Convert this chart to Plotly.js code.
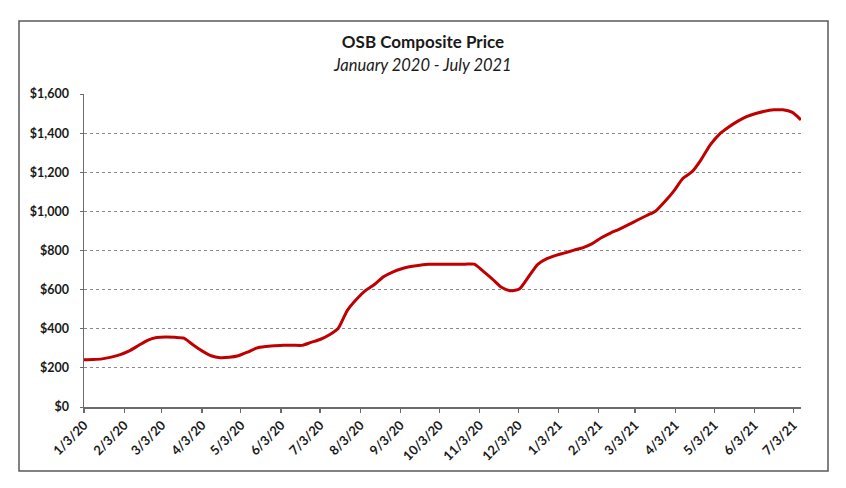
<!DOCTYPE html>
<html>
<head>
<meta charset="utf-8">
<script src="https://cdn.plot.ly/plotly-3.0.1.min.js"></script>
<style>
  html, body { margin: 0; padding: 0; background: #ffffff; }
  #chart { width: 846px; height: 488px; }
</style>
</head>
<body>
<div id="chart"></div>
<script>
// Weekly observation dates
var weekDates = [
  "2020-01-03","2020-01-10","2020-01-17","2020-01-24","2020-01-31",
  "2020-02-07","2020-02-14","2020-02-21","2020-02-28",
  "2020-03-06","2020-03-13","2020-03-20","2020-03-27",
  "2020-04-03","2020-04-10","2020-04-17","2020-04-24",
  "2020-05-01","2020-05-08","2020-05-15","2020-05-22","2020-05-29",
  "2020-06-05","2020-06-12","2020-06-19","2020-06-26",
  "2020-07-03","2020-07-10","2020-07-17","2020-07-24","2020-07-31",
  "2020-08-07","2020-08-14","2020-08-21","2020-08-28",
  "2020-09-04","2020-09-11","2020-09-18","2020-09-25",
  "2020-10-02","2020-10-09","2020-10-16","2020-10-23","2020-10-30",
  "2020-11-06","2020-11-13","2020-11-20","2020-11-27",
  "2020-12-04","2020-12-11","2020-12-18","2020-12-25",
  "2021-01-01","2021-01-08","2021-01-15","2021-01-22","2021-01-29",
  "2021-02-05","2021-02-12","2021-02-19","2021-02-26",
  "2021-03-05","2021-03-12","2021-03-19","2021-03-26",
  "2021-04-02","2021-04-09","2021-04-16","2021-04-23","2021-04-30",
  "2021-05-07","2021-05-14","2021-05-21","2021-05-28",
  "2021-06-04","2021-06-11","2021-06-18","2021-06-25",
  "2021-07-02","2021-07-09"
];

// OSB composite price ($ per MSF)
var osbPrice = [
  242, 243, 246, 255, 268,
  287, 314, 341, 355,
  358, 356, 352, 318,
  287, 262, 252, 254,
  262, 280, 301, 309, 313,
  316, 316, 315, 330,
  345, 368, 401, 493, 550,
  595, 626, 666, 690,
  707, 718, 725, 730,
  730, 730, 730, 730, 730,
  693, 654, 612, 594,
  605, 667, 729, 758,
  775, 788, 802, 815, 835,
  865, 889, 909, 932,
  956, 979, 1002, 1050,
  1105, 1169, 1203, 1265, 1340,
  1394, 1430, 1460, 1484,
  1500, 1512, 1519, 1519,
  1507, 1468
];

// X-axis tick positions and labels
var tickDates = [
  "2020-01-03","2020-02-03","2020-03-03","2020-04-03","2020-05-03","2020-06-03",
  "2020-07-03","2020-08-03","2020-09-03","2020-10-03","2020-11-03","2020-12-03",
  "2021-01-03","2021-02-03","2021-03-03","2021-04-03","2021-05-03","2021-06-03","2021-07-03"
];
var tickLabels = [
  "1/3/20","2/3/20","3/3/20","4/3/20","5/3/20","6/3/20",
  "7/3/20","8/3/20","9/3/20","10/3/20","11/3/20","12/3/20",
  "1/3/21","2/3/21","3/3/21","4/3/21","5/3/21","6/3/21","7/3/21"
];

// Y-axis ticks
var yTickVals = [0, 200, 400, 600, 800, 1000, 1200, 1400, 1600];
var yTickLabels = ["$0","$200","$400","$600","$800","$1,000","$1,200","$1,400","$1,600"];

var chartTitle = "OSB Composite Price";
var chartSubtitle = "January 2020 - July 2021";

var FONT = "Lato, 'Open Sans', 'Liberation Sans', sans-serif";

var trace = {
  x: weekDates,
  y: osbPrice,
  type: "scatter",
  mode: "lines",
  line: { color: "#C00000", width: 3, shape: "spline", smoothing: 0.6 },
  hoverinfo: "x+y"
};

var layout = {
  width: 846,
  height: 488,
  margin: { l: 84, r: 45, t: 94, b: 81, pad: 0 },
  paper_bgcolor: "#ffffff",
  plot_bgcolor: "#ffffff",
  showlegend: false,
  font: { family: FONT, color: "#1a1a1a" },
  title: {
    text: "<b>" + chartTitle + "</b>",
    x: 0.5, xref: "container", xanchor: "center",
    y: 1 - 42 / 488, yref: "container", yanchor: "middle",
    font: { family: FONT, size: 17, color: "#1a1a1a" }
  },
  annotations: [{
    text: "<i>" + chartSubtitle + "</i>",
    xref: "paper", yref: "paper",
    x: (422 - 84) / 717, y: (407 - 65) / 313,
    xanchor: "center", yanchor: "middle",
    showarrow: false,
    font: { family: FONT, size: 16.5, color: "#1a1a1a" }
  }],
  xaxis: {
    type: "date",
    range: ["2020-01-03", "2021-07-09"],
    tickvals: tickDates,
    ticktext: tickLabels,
    tickangle: -45,
    tickfont: { family: FONT, size: 13, color: "#1a1a1a", weight: "bold" },
    showgrid: false,
    zeroline: false,
    showline: true,
    linecolor: "#6b6b6b",
    linewidth: 1.5,
    ticks: "outside",
    ticklen: 4,
    tickwidth: 1.2,
    tickcolor: "#6b6b6b",
    fixedrange: true
  },
  yaxis: {
    range: [0, 1600],
    tickvals: yTickVals,
    ticktext: yTickLabels,
    tickfont: { family: FONT, size: 12.5, color: "#1a1a1a", weight: "bold" },
    showgrid: true,
    gridcolor: "#8a8a8a",
    gridwidth: 1,
    griddash: "3px,3px",
    zeroline: false,
    showline: true,
    linecolor: "#6b6b6b",
    linewidth: 1.5,
    ticks: "outside",
    ticklen: 3,
    tickwidth: 1,
    tickcolor: "#6b6b6b",
    ticklabelstandoff: 8,
    fixedrange: true
  },
  shapes: [{
    type: "rect",
    xref: "paper", yref: "paper",
    x0: (19 - 84) / 717, x1: (828 - 84) / 717,
    y0: (407 - 471) / 313, y1: (407 - 21) / 313,
    line: { color: "#5a5a5a", width: 1.5 },
    fillcolor: "rgba(0,0,0,0)",
    layer: "below"
  }]
};

Plotly.newPlot("chart", [trace], layout, { displayModeBar: false, staticPlot: true });
</script>
</body>
</html>
